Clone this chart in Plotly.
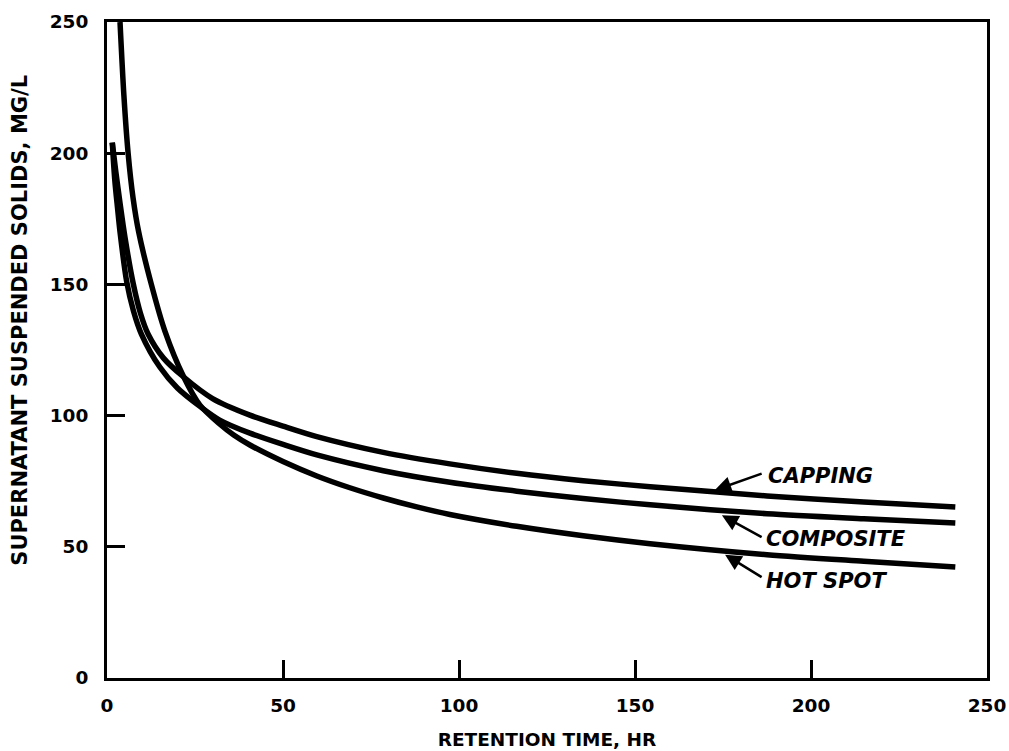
import plotly.graph_objects as go

# Data
capping_x = [1.5, 2.5, 3.7, 5.1, 7.5, 9.5, 11.7, 16.0, 21.7, 30.0, 40.6, 50.0, 59.6, 78.5, 97.4, 116.4, 135.3, 154.3, 187.5, 215.0, 241.0]
capping_y = [204, 193, 181, 168, 150, 139, 131, 122, 114.8, 106.5, 100.2, 96.0, 92.0, 86.0, 81.6, 78.0, 75.2, 72.9, 69.4, 67.1, 65.2]

composite_x = [1.5, 2.2, 3.0, 3.7, 5.6, 7.5, 9.8, 15.0, 20.0, 26.4, 32.0, 40.6, 50.0, 59.6, 78.5, 97.4, 116.4, 135.3, 154.3, 187.5, 215.0, 241.0]
composite_y = [204, 190, 179, 170, 151, 140, 131, 118.5, 110.5, 103.5, 98.3, 93.3, 89.0, 85.0, 79.0, 74.6, 71.2, 68.4, 66.0, 62.6, 60.7, 59.1]

hotspot_x = [3.7, 4.8, 6.0, 7.4, 9.0, 12.6, 16.5, 21.7, 26.4, 32.0, 36.0, 40.6, 50.0, 59.6, 69.0, 78.5, 88.0, 97.4, 116.4, 135.3, 154.3, 187.5, 215.0, 241.0]
hotspot_y = [250, 222, 200, 183, 170, 150, 132, 115, 104, 96.8, 92.6, 88.8, 82.5, 77.0, 72.5, 68.6, 65.2, 62.3, 57.8, 54.2, 51.2, 47.0, 44.5, 42.3]

x_ticks = [0, 50, 100, 150, 200, 250]
y_ticks = [0, 50, 100, 150, 200, 250]

labels = ["CAPPING", "COMPOSITE", "HOT SPOT"]
label_tip_x = [172.7, 174.7, 175.6]
label_tip_y = [71.6, 62.0, 47.0]
label_tail_x = [186.4, 186.4, 186.4]
label_tail_y = [78.1, 53.4, 38.1]
label_text_x = [187.3, 186.7, 186.7]
label_text_y = [77.0, 53.0, 37.0]

FONT = "DejaVu Sans"

fig = go.Figure()
for name, xs, ys in [("CAPPING", capping_x, capping_y),
                     ("COMPOSITE", composite_x, composite_y),
                     ("HOT SPOT", hotspot_x, hotspot_y)]:
    fig.add_trace(go.Scatter(x=xs, y=ys, mode="lines", name=name,
                             line=dict(color="black", width=5.5, shape="spline", smoothing=0.8),
                             showlegend=False))

for i, lab in enumerate(labels):
    fig.add_annotation(x=label_tip_x[i], y=label_tip_y[i], ax=label_tail_x[i], ay=label_tail_y[i],
                       xref="x", yref="y", axref="x", ayref="y", text="",
                       showarrow=True, arrowhead=2, arrowsize=1.3, arrowwidth=2.5, arrowcolor="black")
    fig.add_annotation(x=label_text_x[i], y=label_text_y[i], xref="x", yref="y", text=lab,
                       showarrow=False, xanchor="left", yanchor="middle",
                       font=dict(family=FONT, size=21, color="black", style="italic", weight="bold"))

# y-axis title (placed as rotated text, positioned as in the reference)
fig.add_annotation(x=-0.099, y=0.546, xref="paper", yref="paper", text="SUPERNATANT SUSPENDED SOLIDS, MG/L",
                   showarrow=False, textangle=-90, xanchor="center", yanchor="middle",
                   font=dict(family=FONT, size=21, color="black", weight="bold"))

axis_common = dict(showgrid=False, zeroline=False, showline=True, linecolor="black", linewidth=3,
                   mirror=True, ticks="inside", ticklen=18, tickwidth=3, tickcolor="black",
                   ticklabeloverflow="allow",
                   tickfont=dict(family=FONT, size=18.5, color="black", weight="bold"))

fig.update_xaxes(range=[0, 250], tickvals=x_ticks, ticktext=[str(v) for v in x_ticks],
                 ticklabelstandoff=9,
                 title=dict(text="RETENTION TIME, HR", standoff=18,
                            font=dict(family=FONT, size=18.5, color="black", weight="bold")),
                 **axis_common)
fig.update_yaxes(range=[0, 250], tickvals=y_ticks, ticktext=[str(v) for v in y_ticks],
                 ticklabelstandoff=12, **axis_common)

fig.update_layout(width=1009, height=751, margin=dict(l=107, r=22, t=22, b=73, autoexpand=False),
                  plot_bgcolor="white", paper_bgcolor="white")

# remove the default page margin so the figure fills the window exactly
fig.write_html("out.html", config={"displayModeBar": False},
               post_script="document.body.style.margin='0';document.body.style.overflow='hidden';")
